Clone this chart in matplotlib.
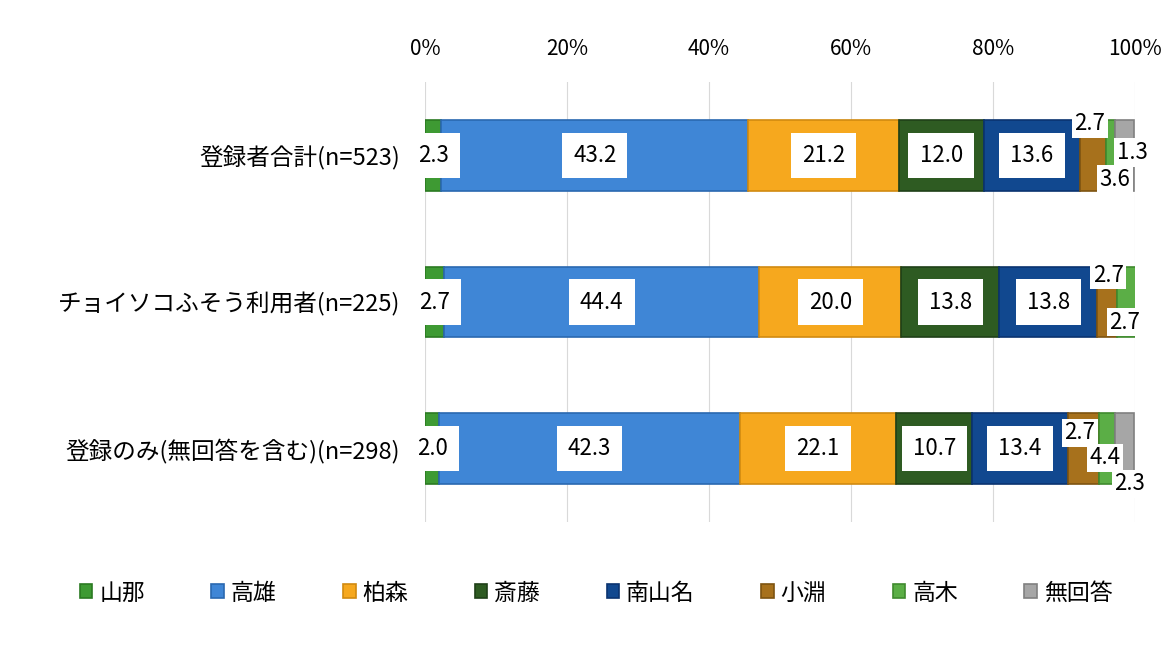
import matplotlib.pyplot as plt
import numpy as np

plt.rcParams['font.family'] = ['Noto Sans CJK JP', 'DejaVu Sans']

categories = ["登録者合計(n=523)", "チョイソコふそう利用者(n=225)", "登録のみ(無回答を含む)(n=298)"]
series = ["山那", "高雄", "柏森", "斎藤", "南山名", "小淵", "高木", "無回答"]
values = [
    [2.3, 43.2, 21.2, 12.0, 13.6, 3.6, 1.3, 2.7],
    [2.7, 44.4, 20.0, 13.8, 13.8, 2.7, 2.7, 0.0],
    [2.0, 42.3, 22.1, 10.7, 13.4, 4.4, 2.3, 2.7],
]
colors = ["#3E9A33", "#3F86D6", "#F6A81E", "#2E5B22", "#11488F", "#A7711C", "#5BAE46", "#A6A6A6"]
edges = ["#2B7A22", "#2A68B0", "#D18A10", "#1F4018", "#0A3370", "#7E5410", "#3F8A2E", "#808080"]
ticks = [0, 20, 40, 60, 80, 100]

# label offsets (pixels) for the small segments at the right end: (row, series) -> (dx, dy)
small_offsets = {
    (0, 5): (22, -24), (0, 6): (22, 3), (0, 7): (-35, 32),
    (1, 5): (18, -20), (1, 6): (-18, 27),
    (2, 5): (22, -9), (2, 6): (23, -35), (2, 7): (-45, 16),
}

fig = plt.figure(figsize=(11.69, 6.61), dpi=100)
ax = fig.add_axes([425 / 1169, 1 - 522 / 661, 710 / 1169, 440 / 661])

y = np.arange(len(categories))
vals = np.array(values)
left = np.zeros(len(categories))
for j, name in enumerate(series):
    w = vals[:, j]
    ax.barh(y, w, left=left, height=0.48, color=colors[j], edgecolor=edges[j],
            linewidth=1.2, label=name, zorder=2)
    for i in range(len(categories)):
        if w[i] <= 0:
            continue
        cx = left[i] + w[i] / 2
        txt = f"{w[i]:.1f}"
        if (i, j) in small_offsets:
            dx, dy = small_offsets[(i, j)]
            ax.annotate(txt, (cx, y[i]), xytext=(dx, dy), textcoords="offset pixels",
                        ha="center", va="center", fontsize=16, zorder=4,
                        bbox=dict(boxstyle="square,pad=0.12", fc="white", ec="none"))
        else:
            ax.text(cx, y[i], txt, ha="center", va="center", fontsize=16, zorder=4,
                    bbox=dict(boxstyle="square,pad=0.5", fc="white", ec="none"))
    left = left + w

ax.set_xlim(0, 100)
ax.set_ylim(2.5, -0.5)
ax.set_yticks(y)
ax.set_yticklabels(categories, fontsize=17)
ax.set_xticks(ticks)
ax.set_xticklabels([f"{t}%" for t in ticks], fontsize=15)
ax.xaxis.tick_top()
ax.tick_params(axis="both", length=0)
ax.tick_params(axis="x", pad=16)
ax.tick_params(axis="y", pad=18)
ax.grid(axis="x", color="#D9D9D9", linewidth=0.8, zorder=0)
for s in ax.spines.values():
    s.set_visible(False)

fig.legend(loc="center", bbox_to_anchor=(0.51, 1 - 593 / 661), ncol=8, frameon=False,
           fontsize=16.5, handlelength=0.55, handleheight=0.55, handletextpad=0.3, columnspacing=2.9)

fig.savefig("out.png", dpi=100)
